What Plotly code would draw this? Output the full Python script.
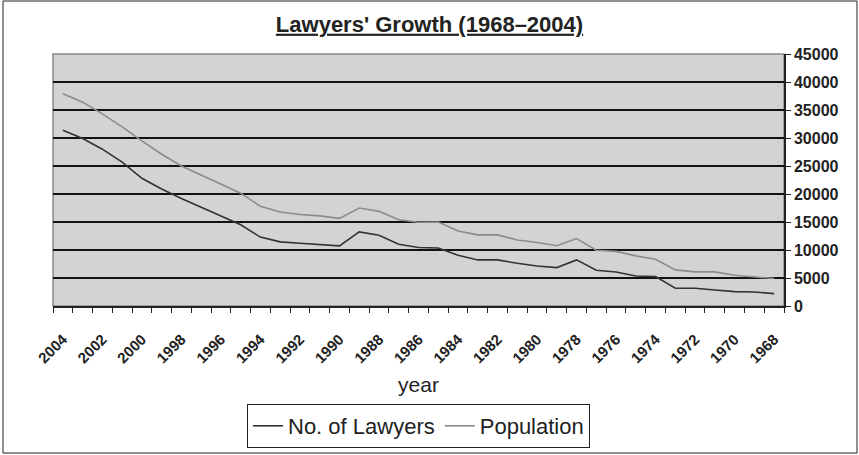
import plotly.graph_objects as go

years = list(range(2004, 1967, -1))
lawyers = [31400, 29900, 28000, 25700, 22800, 20900, 19200, 17600, 16100, 14500,
           12300, 11450, 11200, 10980, 10730, 13230, 12640, 11030, 10440, 10370,
           9070, 8230, 8230, 7630, 7150, 6860, 8230, 6380, 6080, 5370,
           5250, 3160, 3160, 2860, 2570, 2510, 2210]
population = [37900, 36400, 34300, 32000, 29500, 27100, 25000, 23400, 21800, 20150,
              17800, 16800, 16350, 16100, 15650, 17500, 16900, 15400, 14950, 15000,
              13400, 12700, 12700, 11800, 11350, 10750, 12050, 9950, 9750, 8950,
              8350, 6450, 6100, 6100, 5500, 5200, 4900]
year_labels = list(range(2004, 1967, -2))

W, H = 859, 455
L, R, T, B = 53, 75, 54, 149
pw, ph = W - L - R, H - T - B

fig = go.Figure()
fig.add_trace(go.Scatter(x=years, y=lawyers, mode="lines", name="No. of Lawyers",
                         line=dict(color="#333333", width=1.6)))
fig.add_trace(go.Scatter(x=years, y=population, mode="lines", name="Population",
                         line=dict(color="#8c8c8c", width=1.6)))

font = "Liberation Sans, Arial, sans-serif"
fig.update_layout(
    width=W, height=H,
    margin=dict(l=L, r=R, t=T, b=B, autoexpand=False),
    paper_bgcolor="white", plot_bgcolor="#d3d3d4",
    font=dict(family=font, color="#222222"),
    title=dict(text="<b><u>Lawyers' Growth (1968–2004)</u></b>", x=0.5, xanchor="center",
               y=1 - 24 / H, yanchor="middle", font=dict(size=22, color="#222222")),
    xaxis=dict(range=[2004.5, 1967.5], tickvals=year_labels, ticktext=[str(y) for y in year_labels],
               tickangle=-45, tickfont=dict(size=15, family=font, weight="bold"),
               ticks="outside", ticklen=17, tickcolor="rgba(0,0,0,0)",
               showgrid=False, zeroline=False, automargin=False,
               showline=True, linecolor="#222222", linewidth=1.5,
               minor=dict(tickvals=[y + 0.5 for y in range(1967, 2005)], ticks="outside",
                          ticklen=5, tickcolor="#222222", tickwidth=1, showgrid=False),
               title=dict(text="year", font=dict(size=21), standoff=12)),
    yaxis=dict(side="right", range=[0, 45000], dtick=5000, tickformat="d",
               ticks="outside", ticklen=5, tickcolor="#222222", automargin=False,
               tickfont=dict(size=16, family=font, weight="bold"),
               showgrid=True, gridcolor="#111111", gridwidth=1.5, zeroline=False,
               showline=True, linecolor="#222222", linewidth=1.5),
    legend=dict(orientation="h", x=0.5, xanchor="center", y=(H - B - 404) / ph,
                yanchor="top", font=dict(size=22), bordercolor="#222222", borderwidth=1,
                bgcolor="white", itemwidth=30),
    showlegend=True,
)

# grey border round the plot area and frame round the whole chart
fig.add_shape(type="rect", xref="paper", yref="paper", x0=0, x1=1, y0=0, y1=1,
              line=dict(color="#8a8a8a", width=1.5), layer="below")
fig.add_shape(type="rect", xref="paper", yref="paper",
              x0=(3 - L) / pw, x1=(W - L - 2) / pw, y0=-(B - 2) / ph, y1=(ph + T - 1) / ph,
              line=dict(color="#222222", width=1))

fig.write_html("out.html", config={"displayModeBar": False},
               post_script="document.body.style.margin='0';")
